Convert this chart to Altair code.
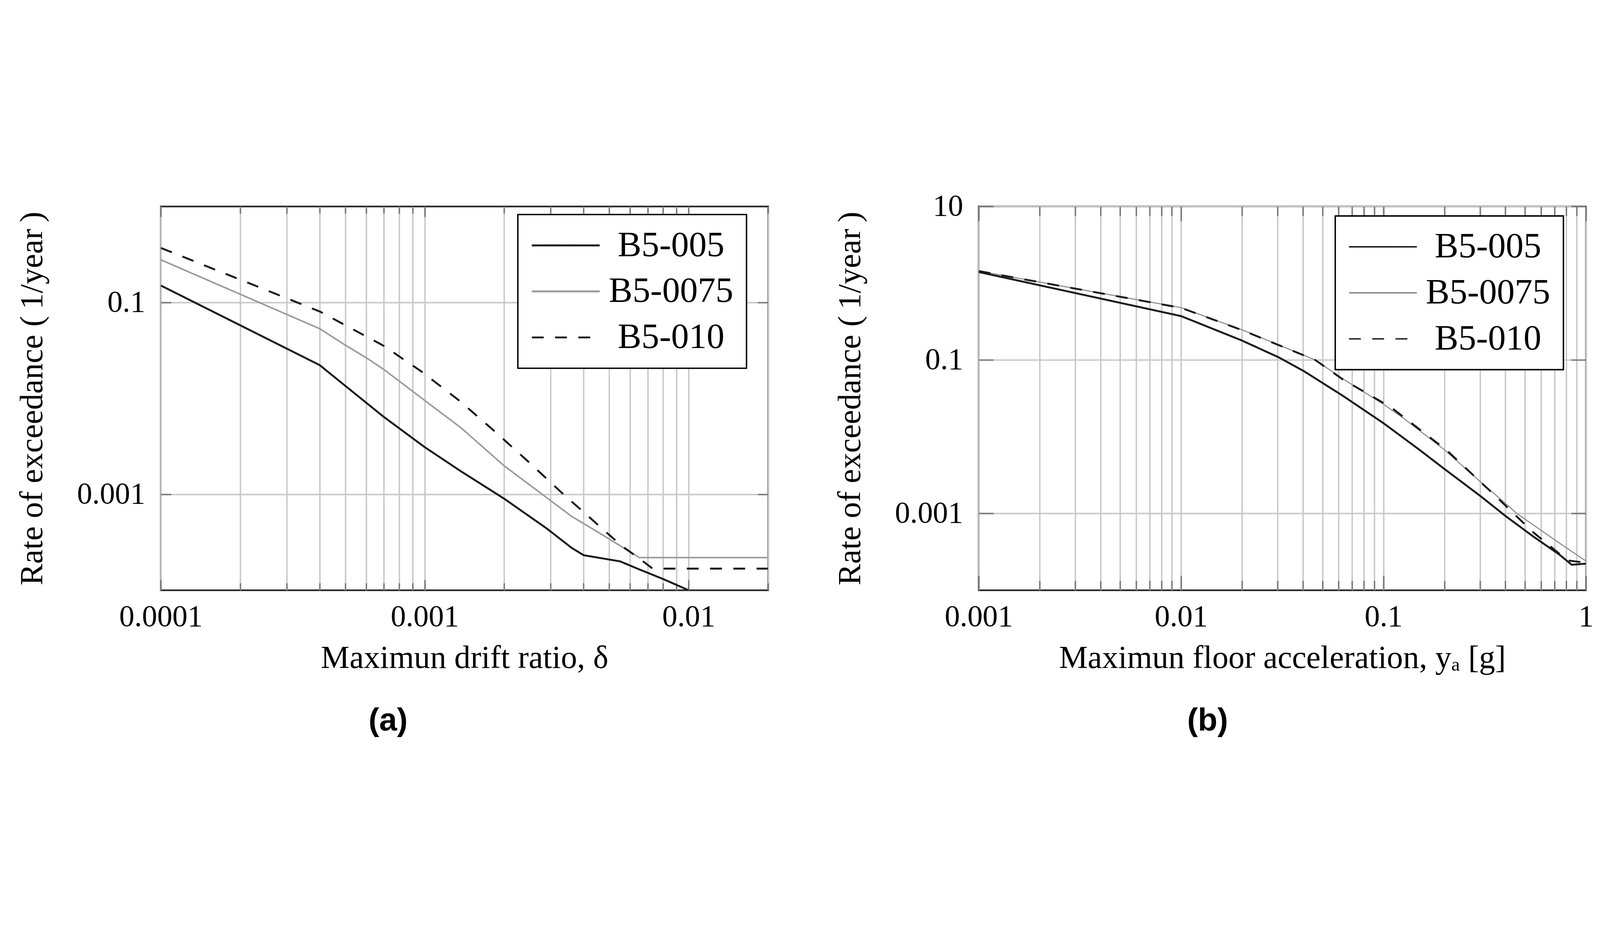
import json
import altair as alt
import pandas as pd

SERIES = ["B5-005", "B5-0075", "B5-010"]

# ---- panel (a): maximum drift ratio ----
A005_X = [0.0001, 0.0004, 0.0005, 0.0007, 0.001, 0.00137, 0.002, 0.0029, 0.0036, 0.004, 0.0055, 0.0065, 0.008, 0.01]
A005_Y = [0.15, 0.0222, 0.0135, 0.0064, 0.0031, 0.00174, 0.0009, 0.00044, 0.000277, 0.000232, 0.0002, 0.000165, 0.000131, 0.0001]
A0075_X = [0.0001, 0.0004, 0.0005, 0.0006, 0.0007, 0.001, 0.00137, 0.002, 0.0028, 0.0036, 0.0048, 0.0065, 0.02]
A0075_Y = [0.278, 0.0532, 0.0359, 0.0265, 0.02, 0.0095, 0.00495, 0.00198, 0.00099, 0.00059, 0.000367, 0.000219, 0.000219]
A010_X = [0.0001, 0.0004, 0.0007, 0.00097, 0.00135, 0.00184, 0.0025, 0.0034, 0.004, 0.0048, 0.0056, 0.0066, 0.0073, 0.02]
A010_Y = [0.37, 0.0805, 0.0352, 0.0191, 0.0095, 0.00454, 0.00212, 0.000966, 0.000653, 0.000417, 0.000288, 0.000208, 0.000168, 0.000168]

# ---- panel (b): maximum floor acceleration ----
B005_X = [0.001, 0.01, 0.02, 0.0304, 0.0405, 0.0628, 0.1, 0.15, 0.2, 0.3, 0.4, 0.55, 0.741, 0.85, 1.0]
B005_Y = [1.40, 0.373, 0.179, 0.108, 0.0713, 0.0343, 0.015, 0.0068, 0.0038, 0.0017, 0.00093, 0.0005, 0.00029, 0.000215, 0.000222]
B0075_X = [0.001, 0.01, 0.02, 0.046, 0.0628, 0.1, 0.127, 0.198, 0.281, 0.456, 0.741, 1.0]
B0075_Y = [1.44, 0.481, 0.247, 0.1, 0.057, 0.0265, 0.017, 0.0069, 0.00304, 0.001, 0.00041, 0.00024]
B010_X = [0.001, 0.01, 0.02, 0.046, 0.0628, 0.109, 0.2066, 0.374, 0.544, 0.81, 1.0]
B010_Y = [1.44, 0.478, 0.245, 0.1, 0.056, 0.0241, 0.00655, 0.00151, 0.00058, 0.000245, 0.000228]

A_XDOM = [0.0001, 0.02]
A_YDOM = [0.0001, 1]
B_XDOM = [0.001, 1]
B_YDOM = [0.0001, 10]
A_XMAJOR = [0.0001, 0.001, 0.01]
A_YMAJOR = [0.1, 0.001]
B_XMAJOR = [0.001, 0.01, 0.1, 1]
B_YMAJOR = [10, 0.1, 0.001]

SERIF = "Liberation Serif"
SANS = "Liberation Sans Narrow, Liberation Sans, sans-serif"
W, H = 2560, 1618
TICK = "#7a7a7a"
GRID = "#c8c8c8"
DASHES = [[1, 0], [1, 0], [50, 48]]


def make_df(xs_list, ys_list):
    rows = []
    for name, xs, ys in zip(SERIES, xs_list, ys_list):
        for i, (x, y) in enumerate(zip(xs, ys)):
            rows.append({"series": name, "x": x, "y": y, "i": i})
    return pd.DataFrame(rows)


def minor_ticks(exps, lo, hi):
    vals = []
    for e in exps:
        for m in range(1, 10):
            v = round(m * 10.0 ** e, 12)
            if lo * 0.999 <= v <= hi * 1.001:
                vals.append(v)
    return vals


def panel(df, xdom, ydom, xminor, xmajor, ymajor, xtitle, widths, colors, caption, cap_dx,
          leg_x, leg_y, sym_w, tmin, tmaj):
    xs = alt.Scale(type="log", domain=xdom, nice=False)
    ys = alt.Scale(type="log", domain=ydom, nice=False)
    lab = "indexof(%s, datum.value) >= 0 ? datum.label : ''" % json.dumps(xmajor)
    leg = alt.Legend(
        orient="none", legendX=leg_x, legendY=leg_y, title=None,
        symbolType="stroke", symbolSize=81796, symbolStrokeWidth=sym_w, clipHeight=150,
        labelFont=SERIF, labelFontSize=150, labelColor="black", labelLimit=2000,
        labelAlign="center", labelOffset=297, padding=55, rowPadding=44,
        strokeColor="black", fillColor="white", cornerRadius=0,
    )
    color = alt.Color("series:N", scale=alt.Scale(domain=SERIES, range=colors), legend=leg)
    dash = alt.StrokeDash("series:N", scale=alt.Scale(domain=SERIES, range=DASHES), legend=leg)
    xaxis = alt.Axis(
        values=xminor, format=".4~f", labelExpr=lab, grid=True, gridColor=GRID, gridWidth=6,
        ticks=False, domain=False, labelFlush=False, labelOverlap=False, labelBound=False,
        labelLimit=2000, labelFontSize=128, labelPadding=50, title=xtitle, titleFontSize=136,
        titleBaseline="alphabetic", titleY=327, titleX=W / 2, titleAlign="center", titleLimit=4000,
    )
    yaxis = alt.Axis(
        values=ymajor, format=".4~f", grid=True, gridColor=GRID, gridWidth=6,
        ticks=False, domain=False, labelFlush=False, labelOverlap=False, labelLimit=2000,
        labelFontSize=128, labelPadding=66, title="Rate of exceedance (\u20091/year\u2009)",
        titleFontSize=136, titleBaseline="alphabetic", titleX=-500, titleY=H / 2,
        titleAngle=270, titleAlign="center", titleLimit=4000,
    )
    layers = []
    for k, name in enumerate(SERIES):
        layers.append(
            alt.Chart(df)
            .transform_filter(alt.datum.series == name)
            .mark_line(clip=True, strokeWidth=widths[k], strokeCap="butt", strokeJoin="round")
            .encode(
                x=alt.X("x:Q", scale=xs, axis=xaxis if k == 0 else None),
                y=alt.Y("y:Q", scale=ys, axis=yaxis if k == 0 else None),
                color=color,
                strokeDash=dash,
                order="i:Q",
            )
        )

    def ticks(xorient, xvals, xsize, yorient=None, yvals=None, ysize=None):
        xa = alt.Axis(orient=xorient, offset=-H, values=xvals, tickSize=xsize, tickColor=TICK,
                      tickWidth=6, labels=False, domain=False, grid=False, title=None)
        ya = None
        if yorient:
            ya = alt.Axis(orient=yorient, offset=-W, values=yvals, tickSize=ysize, tickColor=TICK,
                          tickWidth=6, labels=False, domain=False, grid=False, title=None)
        return alt.Chart(df).mark_line(opacity=0).encode(
            x=alt.X("x:Q", scale=xs, axis=xa),
            y=alt.Y("y:Q", scale=ys, axis=ya),
            detail="series:N",
        )

    layers += [
        ticks("top", xminor, tmin, "right", ymajor, tmaj),
        ticks("bottom", xminor, tmin, "left", ymajor, tmaj),
        ticks("top", xmajor, tmaj),
        ticks("bottom", xmajor, tmaj),
    ]
    return (
        alt.layer(*layers)
        .resolve_axis(x="independent", y="independent")
        .properties(
            width=W, height=H,
            title=alt.TitleParams(
                text=caption, orient="bottom", anchor="middle", frame="group", dx=cap_dx,
                offset=130, font=SANS, fontSize=135, fontWeight="bold", color="black",
            ),
        )
    )


df_a = make_df([A005_X, A0075_X, A010_X], [A005_Y, A0075_Y, A010_Y])
df_b = make_df([B005_X, B0075_X, B010_X], [B005_Y, B0075_Y, B010_Y])

left = panel(df_a, A_XDOM, A_YDOM, minor_ticks([-4, -3, -2], 0.0001, 0.02), A_XMAJOR, A_YMAJOR,
             "Maximun drift ratio, \u03b4", [8, 6.5, 8], ["#1a1a1a", "#9a9a9a", "#1a1a1a"], "(a)", -322,
             1505, 34, 8, 30, 44)
right = panel(df_b, B_XDOM, B_YDOM, minor_ticks([-3, -2, -1, 0], 0.001, 1), B_XMAJOR, B_YMAJOR,
              "Maximun floor acceleration, y\u2090 [g]", [8, 4.5, 8], ["#1a1a1a", "#8a8a8a", "#1a1a1a"], "(b)", -315,
              1503, 40, 6, 40, 62)

chart = (
    alt.hconcat(left, right, spacing=888, bounds="flush")
    .resolve_scale(x="independent", y="independent", color="independent", strokeDash="independent")
    .resolve_legend(color="independent", strokeDash="independent")
    .properties(padding={"left": 52, "top": 30, "right": 10, "bottom": 10}, background="white")
    .configure_view(stroke="#262626", strokeWidth=7)
    .configure_axis(labelFont=SERIF, titleFont=SERIF, labelColor="black", titleColor="black",
                    titleFontWeight="normal")
    .configure_legend(strokeWidth=6)
)

chart.save("out.html", embed_options={"renderer": "svg", "actions": False})
